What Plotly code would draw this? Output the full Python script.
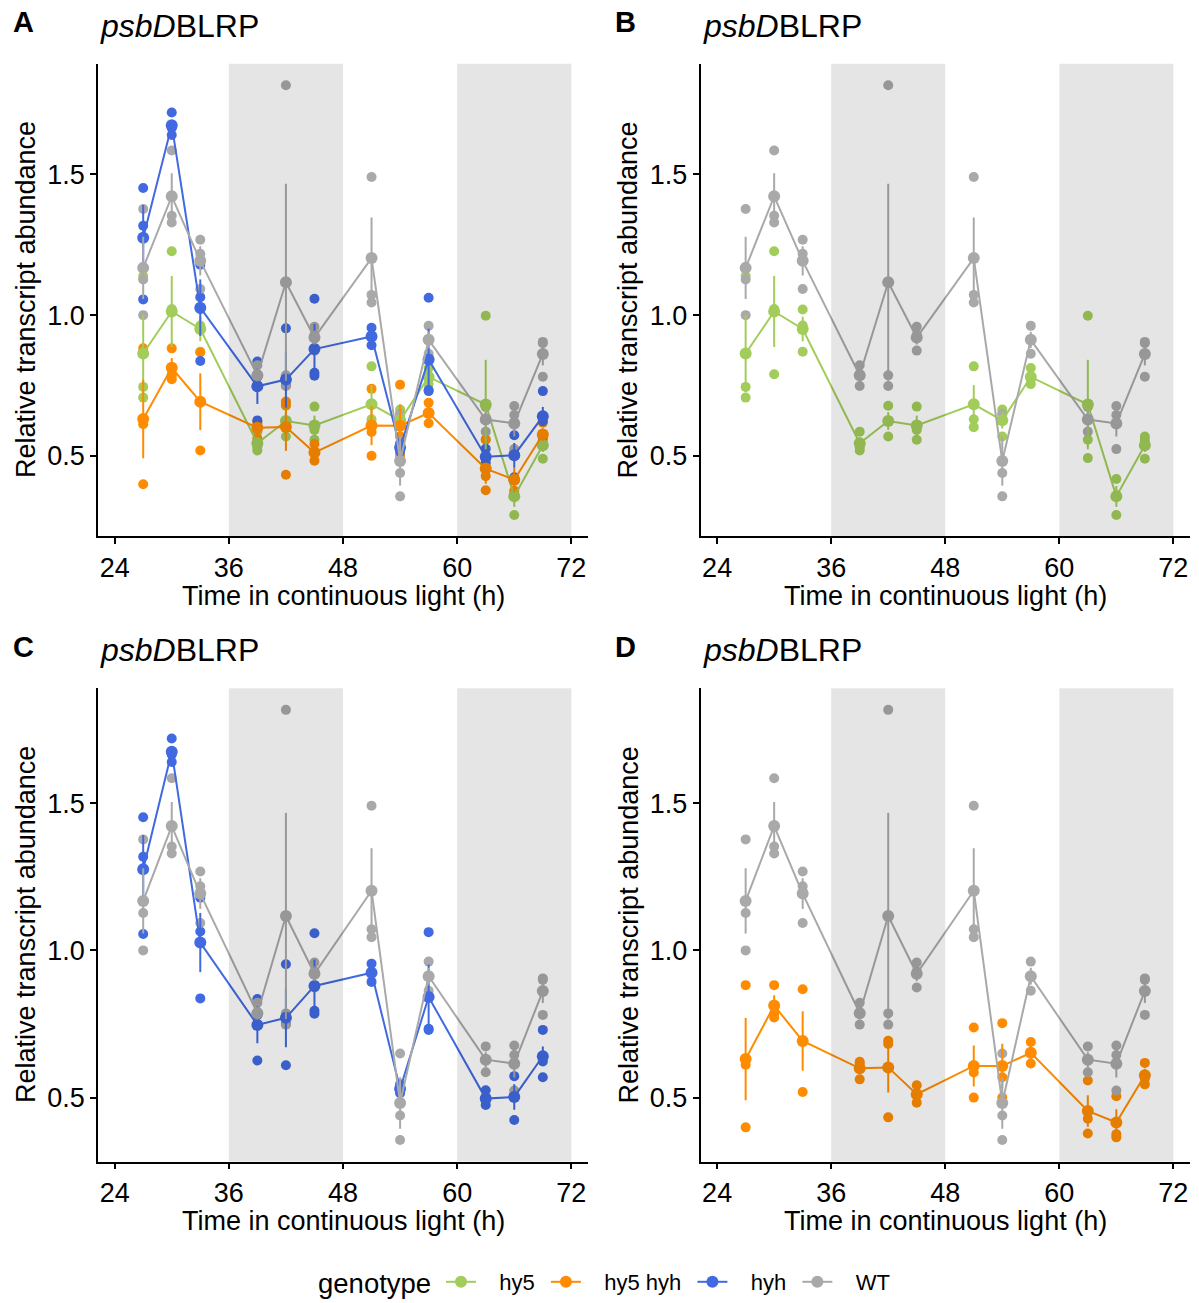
import numpy as np
import plotly.graph_objects as go

# sampling times (h in continuous light)
times = [27, 30, 33, 39, 42, 45, 51, 54, 57, 63, 66, 69]

# replicate values per time point
wt_reps = [[1.377, 1.127, 1.0], [1.585, 1.353, 1.329], [1.268, 1.218, 1.093],
           [0.822, 0.79, 0.748], [1.817, 0.786, 0.748], [0.959, 0.929, 0.874],
           [1.491, 1.072, 1.045], [0.65, 0.439, 0.356], [0.962, 0.912, 0.863],
           [0.674, 0.627, 0.586], [0.677, 0.645, 0.524], [0.905, 0.90, 0.781]]
hy5_reps = [[1.139, 0.745, 0.707], [1.227, 1.022, 0.79], [1.02, 0.963, 0.87],
            [0.586, 0.53, 0.519], [0.678, 0.624, 0.569], [0.675, 0.592, 0.557],
            [0.818, 0.63, 0.602], [0.665, 0.645, 0.569], [0.812, 0.774, 0.755],
            [0.998, 0.557, 0.492], [0.418, 0.36, 0.29], [0.569, 0.555, 0.49]]
hyh_reps = [[1.452, 1.318, 1.056], [1.72, 1.675, 1.665, 1.64], [1.179, 1.064, 0.837],
            [0.835, 0.78, 0.626], [0.953, 0.75, 0.61], [1.058, 0.795, 0.785],
            [0.955, 0.925, 0.893], [0.545, 0.53, 0.515], [1.062, 0.734, 0.73],
            [0.525, 0.49, 0.475], [0.573, 0.51, 0.424], [0.73, 0.64, 0.623, 0.569]]
hy5hyh_reps = [[0.882, 0.612, 0.399], [0.882, 0.785, 0.772], [0.868, 0.69, 0.519],
               [0.622, 0.615, 0.562], [0.693, 0.682, 0.433], [0.542, 0.51, 0.483],
               [0.738, 0.585, 0.5], [0.753, 0.569, 0.5], [0.689, 0.652, 0.616],
               [0.558, 0.428, 0.378], [0.505, 0.376, 0.365], [0.618, 0.565, 0.545]]

genotypes = ["hy5", "hy5 hyh", "hyh", "WT"]
colors = {"hy5": "#A2CD5A", "hy5 hyh": "#FF8C00", "hyh": "#4169E1", "WT": "#A9A9A9"}
reps = {"hy5": hy5_reps, "hy5 hyh": hy5hyh_reps, "hyh": hyh_reps, "WT": wt_reps}

# dark phases (subjective night) shaded
dark_start = [36, 60]
dark_end = [48, 72]

x_ticks = [24, 36, 48, 60, 72]
y_ticks = [0.5, 1.0, 1.5]

panels = [
    ("A", ["hy5", "hy5 hyh", "hyh", "WT"]),
    ("B", ["hy5", "WT"]),
    ("C", ["hyh", "WT"]),
    ("D", ["hy5 hyh", "WT"]),
]

W, H = 1199, 1303
# panel boxes in pixels: (left, right, top, bottom)
boxes = [(98, 588, 64, 538.5), (700.5, 1190, 64, 538.5),
         (98, 588, 691, 1166), (700.5, 1190, 691, 1166)]

fig = go.Figure()
font = "Liberation Sans, Arial, Helvetica, sans-serif"
nb = "\u00a0"

for i, (tag, gts) in enumerate(panels):
    n = "" if i == 0 else str(i + 1)
    xa, ya = "x" + n, "y" + n
    # replicate points
    for g in gts:
        xs, ys = [], []
        for t, vals in zip(times, reps[g]):
            xs += [t] * len(vals)
            ys += vals
        fig.add_trace(go.Scatter(x=xs, y=ys, mode="markers", xaxis=xa, yaxis=ya,
                                 marker=dict(color=colors[g], size=10),
                                 showlegend=False, hoverinfo="skip"))
    # mean +/- SE
    for g in gts:
        means = [np.mean(v) for v in reps[g]]
        ses = [np.std(v, ddof=1) / np.sqrt(len(v)) for v in reps[g]]
        fig.add_trace(go.Scatter(x=times, y=means, mode="lines+markers", xaxis=xa, yaxis=ya,
                                 name=nb * 3 + g + nb, legendgroup=g, showlegend=(i == 0),
                                 line=dict(color=colors[g], width=2),
                                 marker=dict(color=colors[g], size=12),
                                 error_y=dict(type="data", array=ses, color=colors[g],
                                              thickness=2, width=0)))
    allv = [v for g in gts for vals in reps[g] for v in vals]
    lo, hi = min(allv), max(allv)
    pad = 0.05 * (hi - lo)
    l, r, t, b = boxes[i]
    fig.layout["xaxis" + n] = dict(domain=[l / W, r / W], anchor=ya, range=[22.25, 73.75],
                                   tickvals=x_ticks, ticks="outside", ticklen=6, tickwidth=1.5,
                                   tickcolor="black", showline=True, linecolor="black",
                                   linewidth=1.5, showgrid=False, zeroline=False,
                                   tickfont=dict(size=27, color="black", family=font))
    fig.layout["yaxis" + n] = dict(domain=[1 - b / H, 1 - t / H], anchor=xa,
                                   range=[lo - pad, hi + pad], tickvals=y_ticks,
                                   ticktext=["0.5", "1.0", "1.5"], ticks="outside", ticklen=6,
                                   tickwidth=1.5, tickcolor="black", showline=True,
                                   linecolor="black", linewidth=1.5, showgrid=False,
                                   zeroline=False,
                                   tickfont=dict(size=27, color="black", family=font))
    for x0, x1 in zip(dark_start, dark_end):
        fig.add_shape(type="rect", xref=xa, yref=ya + " domain", x0=x0, x1=x1, y0=0, y1=1,
                      fillcolor="rgba(0,0,0,0.1)", line_width=0, layer="above")
    # tag, title, axis titles
    fig.add_annotation(text="<b>" + tag + "</b>", xref="paper", yref="paper",
                       x=(l - 75) / W, y=1 - (t - 42) / H, showarrow=False,
                       xanchor="center", yanchor="middle", font=dict(size=29, color="black"))
    fig.add_annotation(text="<i>psbD</i>BLRP", xref="paper", yref="paper",
                       x=l / W, y=1 - (t - 38) / H, showarrow=False,
                       xanchor="left", yanchor="middle", font=dict(size=32, color="black"))
    fig.add_annotation(text="Time in continuous light (h)", xref="paper", yref="paper",
                       x=(l + r) / 2 / W, y=1 - (b + 60) / H, showarrow=False,
                       xanchor="center", yanchor="middle", font=dict(size=27, color="black"))
    fig.add_annotation(text="Relative transcript abundance", xref="paper", yref="paper",
                       x=(l - 72) / W, y=1 - (t + b) / 2 / H, showarrow=False, textangle=-90,
                       xanchor="center", yanchor="middle", font=dict(size=27, color="black"))

# legend title
fig.add_annotation(text="genotype", xref="paper", yref="paper", x=316 / W, y=1 - 1288 / H,
                   showarrow=False, xanchor="left", yanchor="middle",
                   font=dict(size=27.5, color="black"))

fig.update_layout(
    width=W, height=H, margin=dict(l=0, r=0, t=0, b=0),
    plot_bgcolor="white", paper_bgcolor="white",
    font=dict(family=font, color="black"),
    legend=dict(orientation="h", x=441 / W, xanchor="left", y=1 - 1287 / H, yanchor="middle",
                font=dict(size=22), itemwidth=30),
)

fig.write_html("out.html", config={"displayModeBar": False},
               post_script="document.body.style.margin='0';")
